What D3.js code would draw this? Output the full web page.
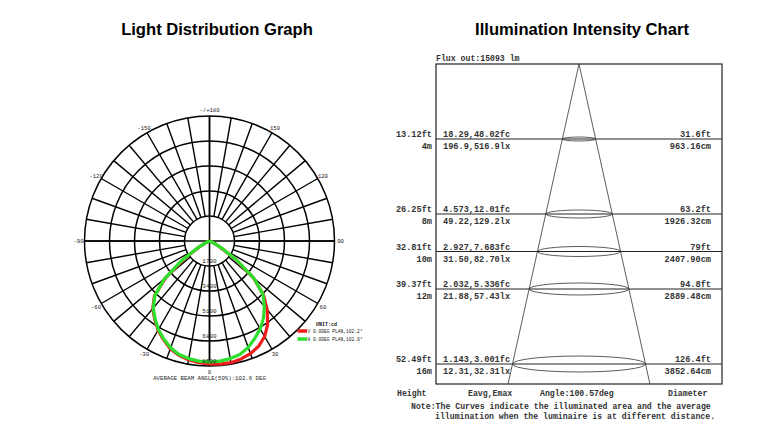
<!DOCTYPE html>
<html><head><meta charset="utf-8">
<script src="https://cdn.jsdelivr.net/npm/d3@7"></script>
<style>html,body{margin:0;padding:0;background:#fff;}svg{display:block;}</style>
</head><body>
<script>
// ---------- DATA ----------
const polarAngles = [-90,-85,-80,-75,-70,-65,-60,-55,-50,-45,-40,-35,-30,-25,-20,-15,-10,-5,0,5,10,15,20,25,30,35,40,45,50,55,60,65,70,75,80,85,90];
const vPlane = [0,10,20,50,100,300,800,2100,3900,5300,6000,6500,7000,7400,7800,8050,8200,8300,8350,8400,8400,8300,8150,7900,7500,6900,6100,5200,3900,2200,800,300,100,50,20,10,0];
const hPlane = [0,10,20,50,100,300,900,2300,4000,5250,5950,6450,6950,7350,7720,7990,8120,8200,8230,8200,8120,7990,7700,7300,6900,6400,5800,5150,3950,2250,900,300,100,50,20,10,0];
const ringTicks = [1700,3400,5100,6800,8500];
const angleTicks = [0,30,60,90,120,150,180,-150,-120,-90,-60,-30];
const angleTickLabels = ["0","30","60","90","120","150","-/+180","-150","-120","-90","-60","-30"];
const legendLabels = ["V 0.0DEG PLAN,102.2°","H 0.0DEG PLAN,102.9°"];

const distM = [4,8,10,12,16];
const distFt = ["13.12ft","26.25ft","32.81ft","39.37ft","52.49ft"];
const distMLabel = ["4m","8m","10m","12m","16m"];
const fcLabels = ["18.29,48.02fc","4.573,12.01fc","2.927,7.683fc","2.032,5.336fc","1.143,3.001fc"];
const lxLabels = ["196.9,516.9lx","49.22,129.2lx","31.50,82.70lx","21.88,57.43lx","12.31,32.31lx"];
const diamFt = ["31.6ft","63.2ft","79ft","94.8ft","126.4ft"];
const diamCm = [963.16,1926.32,2407.90,2889.48,3852.64];

// ---------- SVG ----------
const W=764,H=437;
const svg=d3.select("body").append("svg").attr("width",W).attr("height",H).style("background","#fff");
const mono="'Liberation Mono','DejaVu Sans Mono',monospace";

svg.append("text").attr("x",217).attr("y",35).attr("text-anchor","middle")
  .attr("font-family","'Liberation Sans',Arial,sans-serif").attr("font-weight","bold").attr("font-size",16.6)
  .text("Light Distribution Graph");
svg.append("text").attr("x",582).attr("y",35).attr("text-anchor","middle")
  .attr("font-family","'Liberation Sans',Arial,sans-serif").attr("font-weight","bold").attr("font-size",16.6)
  .text("Illumination Intensity Chart");

// ---------- POLAR ----------
const cx=209.5, cy=241;
const r=d3.scaleLinear().domain([0,8500]).range([0,125]);
const toRad=d=>(180-d)*Math.PI/180; // d3 radial angle (0 = up, clockwise); 0deg data points down
const pg=svg.append("g").attr("transform",`translate(${cx},${cy})`);

pg.selectAll("circle.ring").data(ringTicks).join("circle")
  .attr("r",d=>r(d)).attr("fill","none").attr("stroke","#000").attr("stroke-width",1.5);
const spokes=d3.range(0,360,10);
pg.selectAll("line.spoke").data(spokes).join("line")
  .attr("x1",d=>r(ringTicks[0])*Math.sin(d*Math.PI/180)).attr("y1",d=>-r(ringTicks[0])*Math.cos(d*Math.PI/180))
  .attr("x2",d=>r(8500)*Math.sin(d*Math.PI/180)).attr("y2",d=>-r(8500)*Math.cos(d*Math.PI/180))
  .attr("stroke","#000").attr("stroke-width",1.4);
pg.append("line").attr("x1",0).attr("x2",0).attr("y1",-r(8500)).attr("y2",r(8500)).attr("stroke","#000").attr("stroke-width",1.6);
pg.append("line").attr("y1",0).attr("y2",0).attr("x1",-r(8500)).attr("x2",r(8500)).attr("stroke","#000").attr("stroke-width",1.6);

const radial=d3.lineRadial().angle(d=>toRad(d[0])).radius(d=>r(d[1]));
pg.append("path").attr("d",radial(polarAngles.map((a,i)=>[a,vPlane[i]])))
  .attr("fill","none").attr("stroke","#ee1d1d").attr("stroke-width",3.2).attr("stroke-linejoin","round");
pg.append("path").attr("d",radial(polarAngles.map((a,i)=>[a,hPlane[i]])))
  .attr("fill","none").attr("stroke","#2ee02e").attr("stroke-width",3.2).attr("stroke-linejoin","round");

pg.selectAll("text.ringlab").data(ringTicks).join("text")
  .attr("x",0).attr("y",d=>r(d)-3.5).attr("text-anchor","middle")
  .attr("font-family",mono).attr("font-size",6).attr("fill","#222").text(d=>d);

pg.selectAll("text.anglab").data(angleTicks).join("text")
  .attr("x",d=>131*Math.sin(toRad(d))).attr("y",d=>-131*Math.cos(toRad(d))+2)
  .attr("text-anchor","middle").attr("font-family",mono).attr("font-size",5.6).attr("fill","#222")
  .text((d,i)=>angleTickLabels[i]);

svg.append("text").attr("x",209.5).attr("y",380).attr("text-anchor","middle")
  .attr("font-family",mono).attr("font-size",5.7).attr("fill","#222")
  .text("AVERAGE BEAM ANGLE(50%):102.6 DEG");

// legend
svg.append("text").attr("x",316).attr("y",325.5).attr("font-family",mono).attr("font-weight","bold")
  .attr("font-size",5).attr("fill","#111").text("UNIT:cd");
const legCols=["#ee1d1d","#2ee02e"];
legendLabels.forEach((t,i)=>{
  const y=331+i*8;
  svg.append("line").attr("x1",297.5).attr("x2",307).attr("y1",y).attr("y2",y).attr("stroke",legCols[i]).attr("stroke-width",3.5);
  svg.append("text").attr("x",307.5).attr("y",y+2).attr("font-family",mono).attr("font-size",4.6).attr("fill","#222").text(t);
});

// ---------- ILLUMINATION CHART ----------
const bx0=436,bx1=722,by0=64,by1=384;
const apexX=(bx0+bx1)/2;
const y=d3.scaleLinear().domain([0,16]).range([by0,364]);
const w=d3.scaleLinear().domain([0,3852.64]).range([0,133]);
const rg=svg.append("g");
rg.append("rect").attr("x",bx0).attr("y",by0).attr("width",bx1-bx0).attr("height",by1-by0)
  .attr("fill","none").attr("stroke","#222").attr("stroke-width",1.2);
const bottomDist=y.invert(by1);
const bottomHalf=w(3852.64/16*bottomDist)/2;
[-1,1].forEach(s=>rg.append("line").attr("x1",apexX).attr("y1",by0).attr("x2",apexX+s*bottomHalf).attr("y2",by1)
  .attr("stroke","#333").attr("stroke-width",0.8));

distM.forEach((d,i)=>{
  const yy=y(d);
  rg.append("line").attr("x1",bx0).attr("x2",bx1).attr("y1",yy).attr("y2",yy).attr("stroke","#222").attr("stroke-width",1);
  const rx=w(diamCm[i])/2;
  rg.append("ellipse").attr("cx",apexX).attr("cy",yy).attr("rx",rx).attr("ry",rx*0.12)
    .attr("fill","none").attr("stroke","#333").attr("stroke-width",0.8);
  const t=(x,yy2,txt,anchor)=>rg.append("text").attr("x",x).attr("y",yy2).attr("text-anchor",anchor)
    .attr("font-family",mono).attr("font-weight","bold").attr("font-size",8.6).attr("fill","#333").text(txt);
  t(432,yy-2,distFt[i],"end");
  t(432,yy+10,distMLabel[i],"end");
  t(443,yy-2,fcLabels[i],"start");
  t(443,yy+10,lxLabels[i],"start");
  t(711,yy-2,diamFt[i],"end");
  t(711,yy+10,d3.format(".2f")(diamCm[i])+"cm","end");
});

const ft=(x,yy,txt)=>svg.append("text").attr("x",x).attr("y",yy).attr("font-family",mono).attr("font-weight","bold")
  .attr("font-size",8.2).attr("fill","#333").text(txt);
ft(436,61,"Flux out:15093 lm");
ft(397,396,"Height");
ft(468,396,"Eavg,Emax");
ft(540,396,"Angle:100.57deg");
ft(668,396,"Diameter");
ft(411,409,"Note:The Curves indicate the illuminated area and the average");
ft(435,419,"illumination when the luminaire is at different distance.");
</script>
</body></html>
